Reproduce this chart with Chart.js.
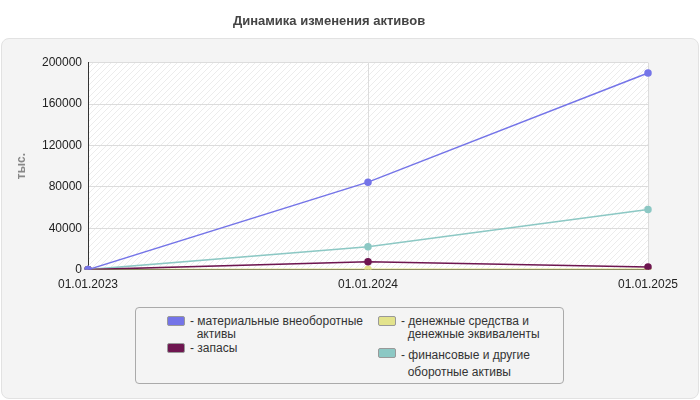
<!DOCTYPE html>
<html><head><meta charset="utf-8">
<script src="https://cdn.jsdelivr.net/npm/chart.js@4/dist/chart.umd.min.js"></script>
<style>
body{margin:0;width:700px;height:400px;background:#fff;font-family:Arial,"Liberation Sans",sans-serif;position:relative;overflow:hidden}
#panel{position:absolute;left:1px;top:38px;width:696px;height:359px;background:#f4f4f4;border:1px solid #e2e2e2;border-radius:8px}
#wrap{position:absolute;left:0;top:0;width:700px;height:300px}
#legend{position:absolute;left:135px;top:307px;width:427px;height:75px;border:1px solid #aaa;border-radius:4px;background:#f4f4f4;font-size:12px;color:#333}
.it{position:absolute;line-height:13px}
.sw{position:absolute;left:-23px;top:1px;width:16px;height:8px;border:1px solid #999;border-radius:2px}
</style></head><body>
<div id="panel"></div>
<div id="wrap"><canvas id="c" width="700" height="300"></canvas></div>
<div id="legend"></div>
<script>
const categories=["01.01.2023","01.01.2024","01.01.2025"];
const seriesNames=["материальные внеоборотные активы","запасы","денежные средства и денежные эквиваленты","финансовые и другие оборотные активы"];
const material=[0,84500,190000];
const zapasy=[0,7500,2500];
const dengi=[0,300,300];
const finans=[0,22000,58000];
const colors=["#7474e8","#6e1650","#e3e38c","#8cc8c4"];
const yTicks=[0,40000,80000,120000,160000,200000];

const leg=document.getElementById('legend');
const legPos=[[54,7,"- материальные внеоборотные<br>&nbsp;&nbsp;активы"],[54,34,"- запасы"],[265,7,"- денежные средства и<br>&nbsp;&nbsp;денежные эквиваленты"],[265,39,"- финансовые и другие<br>&nbsp;&nbsp;оборотные активы"]];
legPos.forEach((p,i)=>{const d=document.createElement('div');d.className='it';d.style.left=p[0]+'px';d.style.top=p[1]+'px';if(i==3)d.style.lineHeight='17px';d.innerHTML='<span class="sw" style="background:'+colors[i]+'"></span>'+p[2];leg.appendChild(d);});

const pc=document.createElement('canvas');pc.width=6;pc.height=6;const px=pc.getContext('2d');
px.fillStyle='#fff';px.fillRect(0,0,6,6);px.strokeStyle='#ececec';px.lineWidth=1;px.beginPath();px.moveTo(0,6);px.lineTo(6,0);px.stroke();
const bgPlugin={id:'bg',beforeDraw(ch){const a=ch.chartArea,c=ch.ctx;c.save();c.fillStyle=c.createPattern(pc,'repeat');c.fillRect(a.left,a.top,a.right-a.left,a.bottom-a.top);c.restore();}};

const data=[material,zapasy,dengi,finans];
new Chart(document.getElementById('c'),{type:'line',
data:{labels:categories,datasets:data.map((d,i)=>({label:seriesNames[i],data:d,borderColor:colors[i],backgroundColor:colors[i],borderWidth:1.5,pointRadius:3,pointHoverRadius:3,tension:0}))},
options:{responsive:false,animation:false,
layout:{padding:{left:10,right:52,top:0,bottom:0}},
plugins:{legend:{display:false},tooltip:{enabled:false},
title:{display:true,text:'Динамика изменения активов',color:'#444',font:{size:13,weight:'bold',family:'Arial'},padding:{top:14,bottom:33}}},
scales:{
x:{grid:{color:'#dcdcdc',drawTicks:false},border:{display:true,color:'#333'},
ticks:{color:'#222',font:{size:12},padding:8,maxRotation:0}},
y:{min:0,max:200000,afterBuildTicks(s){s.ticks=yTicks.map(v=>({value:v}));},afterFit(s){s.width=78;},
grid:{color:'#dcdcdc',drawTicks:false},border:{color:'#333',dash:[]},
ticks:{color:'#222',font:{size:12},padding:6,callback:v=>String(v)},
title:{display:true,text:'тыс.',color:'#888',font:{size:12,weight:'bold'}}}}},
plugins:[bgPlugin,{id:'dashgrid',beforeInit(ch){ch.options.scales.x.border.dash=[];ch.options.scales.x.grid.borderDash=[4,4];}}]});
Chart.defaults.scale.border.dash=[];
</script></body></html>
